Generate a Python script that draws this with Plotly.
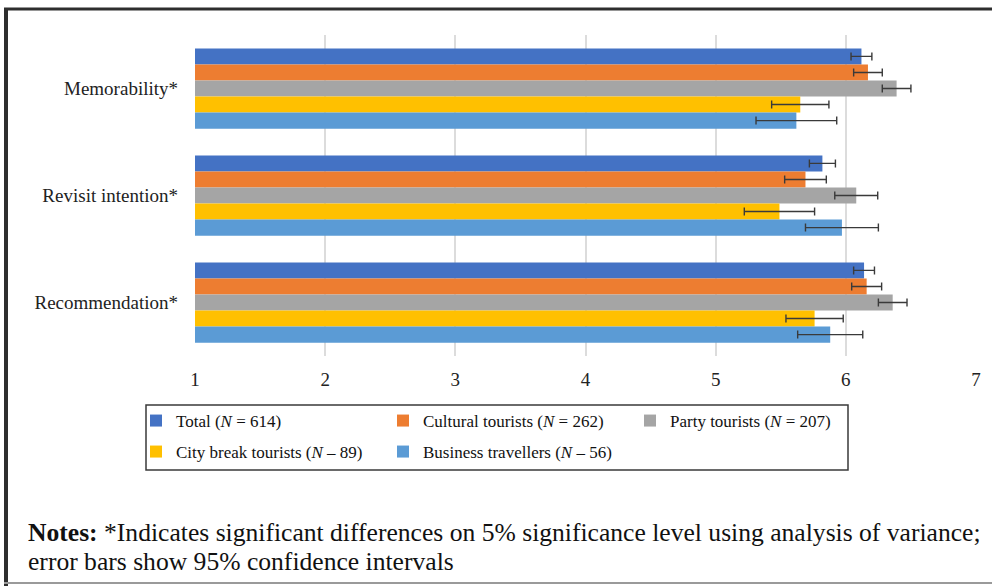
import plotly.graph_objects as go

# Outcome measures (top to bottom)
measures = ["Memorability*", "Revisit intention*", "Recommendation*"]

# Segment names shown in the legend
segments = [
    "Total (<i>N</i> = 614)",
    "Cultural tourists (<i>N</i> = 262)",
    "Party tourists (<i>N</i> = 207)",
    "City break tourists (<i>N</i> – 89)",
    "Business travellers (<i>N</i> – 56)",
]

# Mean scores per segment, in the order of `measures`
total_mean = [6.12, 5.82, 6.14]
cultural_mean = [6.17, 5.69, 6.16]
party_mean = [6.39, 6.08, 6.36]
citybreak_mean = [5.65, 5.49, 5.76]
business_mean = [5.62, 5.97, 5.88]

# Half-widths of the 95% confidence intervals
total_ci = [0.08, 0.10, 0.08]
cultural_ci = [0.11, 0.16, 0.115]
party_ci = [0.11, 0.165, 0.11]
citybreak_ci = [0.22, 0.27, 0.22]
business_ci = [0.31, 0.28, 0.25]

x_ticks = [1, 2, 3, 4, 5, 6, 7]

means = [total_mean, cultural_mean, party_mean, citybreak_mean, business_mean]
cis = [total_ci, cultural_ci, party_ci, citybreak_ci, business_ci]
colors = ["#4472C4", "#ED7D31", "#A5A5A5", "#FFC000", "#5B9BD5"]
legend_ids = ["legend", "legend", "legend", "legend2", "legend2"]

W, H = 992, 586
L, R, T, B = 195, 976, 35, 356
SERIF = "Liberation Serif, Times New Roman, serif"


def px(x):
    return (x - L) / (R - L)


def py(y):
    return (B - y) / (B - T)


fig = go.Figure()
for name, m, ci, c, lg in zip(segments, means, cis, colors, legend_ids):
    fig.add_trace(go.Bar(
        y=measures, x=m, orientation="h", name=name,
        marker=dict(color=c, line=dict(width=0)),
        error_x=dict(type="data", array=ci, visible=True,
                     color="#3a3a3a", thickness=1.4, width=4),
        legend=lg,
    ))

shapes = [
    # outer frame
    dict(type="line", xref="paper", yref="paper", x0=px(6), x1=px(6), y0=py(8), y1=py(586),
         line=dict(color="#2e2e2e", width=4)),
    dict(type="line", xref="paper", yref="paper", x0=px(4), x1=px(992), y0=py(9), y1=py(9),
         line=dict(color="#2e2e2e", width=3)),
    dict(type="line", xref="paper", yref="paper", x0=px(4), x1=px(992), y0=py(583), y1=py(583),
         line=dict(color="#9a9a9a", width=2)),
    # legend box
    dict(type="rect", xref="paper", yref="paper", x0=px(146), x1=px(848), y0=py(405), y1=py(470),
         line=dict(color="#3a3a3a", width=1.5), fillcolor="rgba(0,0,0,0)"),
]

notes_font = dict(family=SERIF, size=25.6, color="#111111")
annotations = [
    dict(xref="paper", yref="paper", x=px(26), y=py(532), xanchor="left", yanchor="middle",
         showarrow=False, font=notes_font,
         text="<b>Notes:</b> *Indicates significant differences on 5% significance level using analysis of variance;"),
    dict(xref="paper", yref="paper", x=px(26), y=py(561), xanchor="left", yanchor="middle",
         showarrow=False, font=notes_font,
         text="error bars show 95% confidence intervals"),
]

legend_font = dict(family=SERIF, size=17, color="#111111")
tick_font = dict(family=SERIF, size=19, color="#222222")
fig.update_layout(
    width=W, height=H,
    margin=dict(l=L, r=W - R, t=T, b=H - B, pad=0),
    paper_bgcolor="white", plot_bgcolor="white",
    barmode="group", bargap=0.25, bargroupgap=0,
    font=dict(family=SERIF, size=17, color="#222222"),
    xaxis=dict(range=[1, 7], tickvals=x_ticks, showgrid=True, gridcolor="#dcdcdc", gridwidth=1.5,
               zeroline=False, showline=False, ticks="", ticklabelstandoff=10,
               tickfont=tick_font),
    yaxis=dict(autorange="reversed", showgrid=False, showline=False, ticks="",
               ticklabelstandoff=16, tickfont=tick_font),
    showlegend=True,
    legend=dict(orientation="h", x=px(136), y=py(403), xanchor="left", yanchor="top",
                entrywidth=202, traceorder="normal", font=legend_font,
                bgcolor="rgba(0,0,0,0)", itemwidth=30),
    legend2=dict(orientation="h", x=px(136), y=py(434), xanchor="left", yanchor="top",
                 entrywidth=202, traceorder="normal", font=legend_font,
                 bgcolor="rgba(0,0,0,0)", itemwidth=30),
    shapes=shapes,
    annotations=annotations,
)

fig.write_html("out.html")
